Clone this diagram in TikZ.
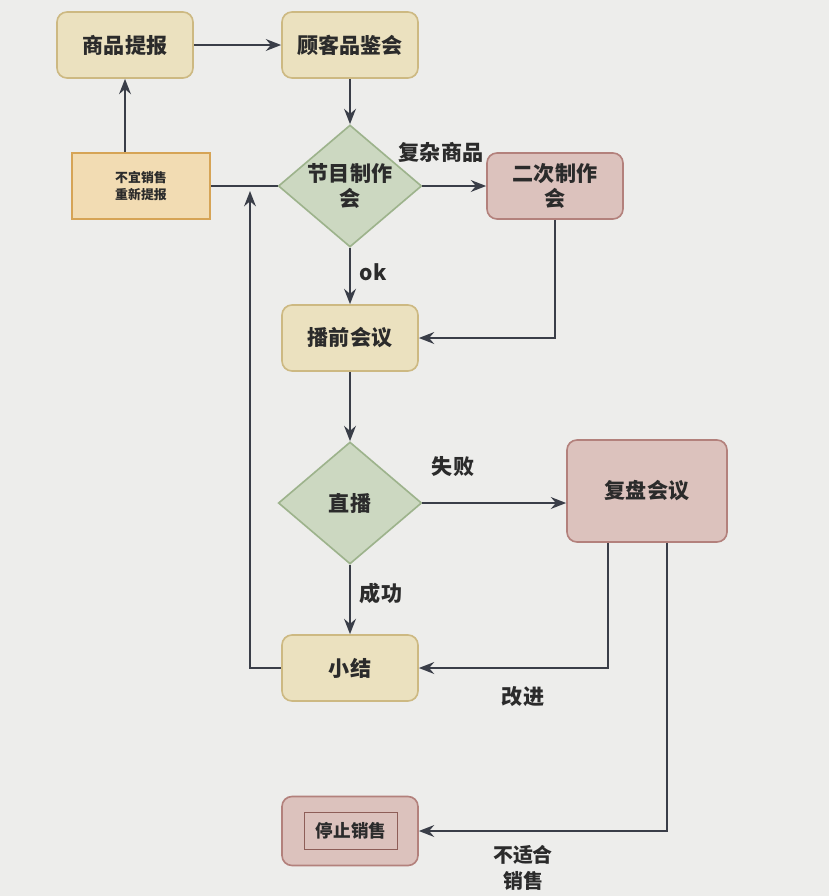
\documentclass[tikz,border=0pt]{standalone}
\usepackage{fontspec}
\setmainfont{Noto Sans CJK SC}
\usetikzlibrary{shapes.geometric,arrows.meta}
\definecolor{bg}{HTML}{EDEDEB}
\definecolor{txt}{HTML}{2B2B2B}
\definecolor{lnc}{HTML}{3A3E48}
\definecolor{yfill}{HTML}{EBE1BF}
\definecolor{ydraw}{HTML}{CDB982}
\definecolor{ofill}{HTML}{F2DCB3}
\definecolor{odraw}{HTML}{D6A456}
\definecolor{gfill}{HTML}{CCD8C1}
\definecolor{gdraw}{HTML}{9DB38C}
\definecolor{pfill}{HTML}{DCC2BD}
\definecolor{pdraw}{HTML}{B3817C}
\definecolor{pin}{HTML}{8E5E58}
\tikzset{
  ybox/.style={draw=ydraw, fill=yfill, line width=1.4pt, rounded corners=0.3cm,
    minimum width=4.08cm, minimum height=1.98cm, align=center, text=txt},
  pbox/.style={draw=pdraw, fill=pfill, line width=1.4pt, rounded corners=0.3cm,
    minimum width=4.08cm, minimum height=1.98cm, align=center, text=txt},
  obox/.style={draw=odraw, fill=ofill, line width=1.6pt,
    minimum width=4.14cm, minimum height=1.98cm, align=center, text=txt,
    font=\bfseries\fontsize{11}{14}\selectfont},
  gdia/.style={diamond, draw=gdraw, fill=gfill, line width=1.4pt, inner sep=0pt,
    minimum width=4.3cm, minimum height=3.66cm},
  lbl/.style={text=txt, align=center},
  arr/.style={draw=lnc, line width=2.1pt, -{Stealth[length=13pt,width=10pt]}},
  ln/.style={draw=lnc, line width=2.1pt},
}
\begin{document}
\begin{tikzpicture}[x=0.03cm, y=-0.03cm, font=\bfseries\fontsize{18}{22}\selectfont]
\fill[bg] (0,0) rectangle (829,896);
\useasboundingbox (0,0) rectangle (829,896);

\node[ybox] (sp) at (125,45) {商品提报};
\node[ybox] (gk) at (350,45) {顾客品鉴会};
\node[obox] (bx) at (141,186) {不宜销售\\重新提报};
\node[gdia] (jm) at (350,186) {};
\node[lbl] (jmt) at (jm.center) {节目制作\\会};
\node[pbox] (ec) at (555,186) {二次制作\\会};
\node[ybox] (bq) at (350,338) {播前会议};
\node[gdia] (zb) at (350,503) {};
\node[lbl] (zbt) at (zb.center) {直播};
\node[pbox, minimum width=4.8cm, minimum height=3.06cm] (fp) at (647,491) {复盘会议};
\node[ybox] (xj) at (350,668) {小结};
\node[pbox, minimum height=2.07cm] (tz) at (350,831) {};
\node[draw=pin, line width=1pt, minimum width=2.79cm, minimum height=1.11cm,
  text=txt, font=\bfseries\fontsize{15}{18}\selectfont] (tzi) at (351,831) {停止销售};

\draw[arr] (sp.east) -- (gk.west);
\draw[arr] (gk.south) -- (jm.north);
\draw[arr] (sp.south |- bx.north) -- (sp.south);
\draw[ln] (bx.east) -- (jm.west);
\draw[arr] (jm.east) -- (ec.west);
\draw[arr] (jm.south) -- (bq.north);
\draw[arr] (ec.south) |- (bq.east);
\draw[arr] (bq.south) -- (zb.north);
\draw[arr] (zb.east) -- (zb.east -| fp.west);
\draw[arr] (zb.south) -- (xj.north);
\draw[arr] ([xshift=-1.17cm]fp.south) |- (xj.east);
\draw[arr] ([xshift=0.6cm]fp.south) |- (tz.east);
\coordinate (up) at (250,191);
\draw[arr] (xj.west) -| (up);

\node[lbl] (l1) at (441,152) {复杂商品};
\node[lbl] (l2) at (373,272) {ok};
\node[lbl] (l3) at (453,467) {失败};
\node[lbl] (l4) at (381,593) {成功};
\node[lbl] (l5) at (523,697) {改进};
\node[lbl, font=\bfseries\fontsize{17}{22}\selectfont] (l6) at (523,868) {不适合\\销售};
\end{tikzpicture}
\end{document}
